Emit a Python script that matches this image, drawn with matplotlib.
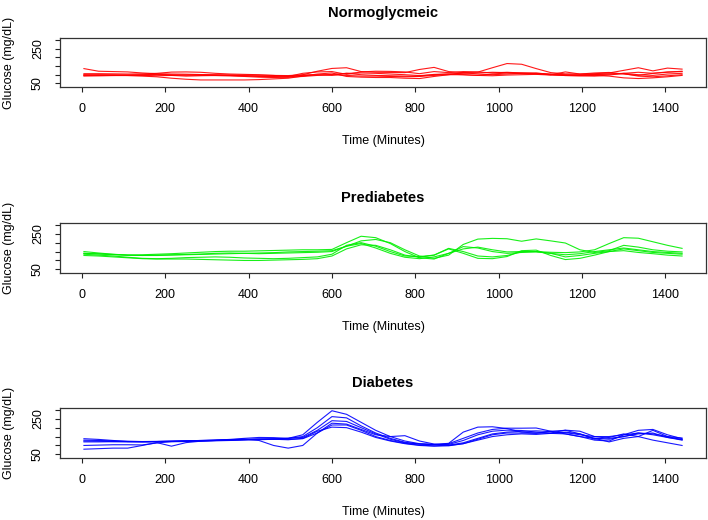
import numpy as np
import matplotlib
matplotlib.use('Agg')
import matplotlib.pyplot as plt

plt.rcParams['font.family'] = ['Liberation Sans Narrow', 'Liberation Sans', 'DejaVu Sans']

# time of day, minutes
minutes = [5 + 35 * i for i in range(42)]

# Normoglycmeic (red)
norm1 = [135,120,118,116,110,106,104,103,101,100,99,98,97,96,95,100,120,136,140,118,114,113,112,130,142,118,112,115,140,164,160,135,112,105,104,106,110,125,140,122,138,132]
norm2 = [106,106,105,104,105,108,115,116,114,108,104,102,100,96,90,108,116,118,102,116,120,119,116,106,118,112,118,116,110,114,110,106,100,116,104,110,113,104,96,108,116,118]
norm3 = [100,98,96,95,92,88,80,74,70,70,70,70,72,76,80,92,104,110,90,86,84,84,80,78,90,100,112,104,100,104,108,110,102,95,94,96,92,82,78,82,88,96]
norm4 = [96,95,96,98,100,102,100,98,96,95,93,90,86,84,86,98,100,96,108,110,108,104,100,95,100,104,108,110,114,112,110,108,104,100,100,102,104,108,114,108,114,120]
norm5 = [98,100,100,98,98,100,96,92,94,96,96,94,92,90,92,96,98,100,96,92,92,90,88,90,96,100,100,96,104,110,106,104,100,98,96,100,104,106,92,88,94,100]
norm6 = [92,94,95,96,96,94,96,98,100,98,96,94,90,88,86,90,96,102,108,100,96,94,92,92,102,104,100,96,94,98,100,102,98,96,94,92,98,108,100,96,104,108]

# Prediabetes (green)
pre1 = [150,142,135,130,132,135,138,142,146,150,152,152,154,156,158,160,160,162,200,236,228,195,150,115,108,140,178,170,150,140,145,150,146,144,148,160,195,228,225,205,185,168]
pre2 = [140,138,134,130,128,130,132,134,136,140,142,140,138,140,142,144,146,150,180,210,218,200,160,125,112,130,190,220,224,222,208,221,210,198,160,145,155,185,175,160,152,148]
pre3 = [135,130,125,118,112,110,112,116,118,120,118,114,112,110,112,116,120,135,185,200,180,150,125,122,130,165,140,112,110,122,155,158,128,105,112,130,150,165,155,145,140,135]
pre4 = [128,125,120,115,110,108,108,108,106,104,102,100,100,102,104,106,110,125,165,188,185,160,130,118,130,168,150,125,120,128,148,150,140,120,128,140,150,155,145,138,130,125]
pre5 = [140,136,132,130,128,128,130,132,134,136,138,140,142,144,148,150,152,155,180,195,170,140,118,110,120,140,165,175,160,148,150,148,140,132,138,150,160,170,160,150,145,140]

# Diabetes (blue)
dia1 = [138,134,128,122,120,120,121,122,124,126,128,130,132,135,140,160,230,295,275,230,185,150,125,110,106,112,175,203,205,195,175,170,168,165,150,140,135,150,170,165,150,142]
dia2 = [125,124,122,120,120,122,124,126,128,130,134,140,145,144,140,150,200,262,255,210,170,140,118,108,105,110,140,170,190,197,197,198,180,165,150,130,125,160,185,190,160,138]
dia3 = [100,102,104,104,103,114,122,124,126,128,130,133,136,138,140,145,185,239,235,200,165,135,115,108,104,106,128,160,180,186,184,175,170,186,180,150,140,150,165,170,145,130]
dia4 = [79,82,85,85,100,116,96,116,124,128,132,136,128,100,85,100,170,225,220,190,160,150,155,125,108,100,110,135,160,170,170,168,180,185,165,140,120,140,150,185,150,132]
dia5 = [130,128,126,124,122,122,124,126,128,130,132,134,136,135,132,140,180,203,200,175,145,125,110,100,96,98,110,130,150,160,165,162,168,175,165,135,145,165,150,130,115,100]
dia6 = [120,120,121,122,122,123,124,125,127,129,131,133,135,136,134,138,170,215,215,185,150,128,112,102,98,102,115,140,165,175,180,182,178,172,160,150,150,160,170,160,145,134]

titles = ['Normoglycmeic', 'Prediabetes', 'Diabetes']
colors = ['#ff0000', '#00ee00', '#0000ff']
groups = [[norm1, norm2, norm3, norm4, norm5, norm6],
          [pre1, pre2, pre3, pre4, pre5],
          [dia1, dia2, dia3, dia4, dia5, dia6]]

fig = plt.figure(figsize=(7.08, 5.2), dpi=100)

# axes boxes in pixels (top, bottom)
W, H = 708, 520
boxes = [(38, 87), (223, 273), (408, 458)]
left, right = 60, 706

for (top, bot), title, col, curves in zip(boxes, titles, colors, groups):
    ax = fig.add_axes([left / W, 1 - bot / H, (right - left) / W, (bot - top) / H])
    for c in curves:
        ax.plot(minutes, c, color=col, lw=0.8, alpha=0.9)
    ax.set_xlim(-52.4, 1497.4)
    ax.set_ylim(29.6, 310.4)
    ax.set_xticks(range(0, 1401, 200))
    ax.set_yticks(range(50, 301, 50))
    ax.set_yticklabels(['50', '', '', '', '250', ''], rotation=90, va='center')
    ax.tick_params(axis='both', direction='out', length=3.6, width=0.8,
                   labelsize=9, color='#222222')
    ax.tick_params(axis='x', pad=8)
    ax.tick_params(axis='y', pad=8)
    for s in ax.spines.values():
        s.set_linewidth(0.9)
        s.set_color('#333333')
    ax.set_title(title, fontsize=10.5, fontweight='bold', pad=15)
    ax.set_xlabel('Time (Minutes)', fontsize=9, labelpad=14)
    ax.set_ylabel('Glucose (mg/dL)', fontsize=9, labelpad=12)

fig.savefig('out.png', dpi=100)
